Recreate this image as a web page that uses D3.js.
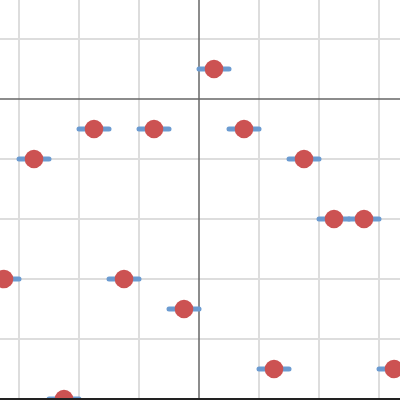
<!DOCTYPE html>
<html>
<head>
<meta charset="utf-8">
<script src="https://cdn.jsdelivr.net/npm/d3@7"></script>
<style>
  body { margin: 0; background: #fff; }
  svg { display: block; }
</style>
</head>
<body>
<div id="chart"></div>
<script>
// point values
var xs = [0.25, -1.75, -0.75, 0.75, -2.75, 1.75, 2.25, 2.75, -3.25, -1.25, -0.25, 1.25, 3.25, -2.25];
var ys = [0.5, -0.5, -0.5, -0.5, -1, -1, -2, -2, -3, -3, -3.5, -4.5, -4.5, -5];
var xerr = [0.25, 0.25, 0.25, 0.25, 0.25, 0.25, 0.25, 0.25, 0.25, 0.25, 0.25, 0.25, 0.25, 0.25];

// grid positions
var xTicks = [-3, -2, -1, 1, 2, 3];
var yTicks = [1, -1, -2, -3, -4];

var width = 400, height = 400;

var svg = d3.select("#chart")
  .append("svg")
    .attr("width", width)
    .attr("height", height);

var x = d3.scaleLinear().domain([-4, 4]).range([199 - 240, 199 + 240]);
var y = d3.scaleLinear().domain([-5, 1]).range([399, 39]);

var data = [];
for (var i = 0; i < xs.length; i++) {
  data.push({x: xs[i], y: ys[i], e: xerr[i]});
}

// grid
svg.selectAll(".vgrid")
  .data(xTicks)
  .enter().append("line")
    .attr("x1", function(d) { return x(d); })
    .attr("x2", function(d) { return x(d); })
    .attr("y1", 0).attr("y2", height)
    .attr("stroke", "#dddddd")
    .attr("stroke-width", 2);

svg.selectAll(".hgrid")
  .data(yTicks)
  .enter().append("line")
    .attr("y1", function(d) { return y(d); })
    .attr("y2", function(d) { return y(d); })
    .attr("x1", 0).attr("x2", width)
    .attr("stroke", "#dddddd")
    .attr("stroke-width", 2);

// zero axes
svg.append("line")
  .attr("x1", x(0)).attr("x2", x(0))
  .attr("y1", 0).attr("y2", height)
  .attr("stroke", "#666666")
  .attr("stroke-width", 1.5);

svg.append("line")
  .attr("y1", y(0)).attr("y2", y(0))
  .attr("x1", 0).attr("x2", width)
  .attr("stroke", "#666666")
  .attr("stroke-width", 1.5);

// error bars
svg.selectAll(".err")
  .data(data)
  .enter().append("line")
    .attr("x1", function(d) { return x(d.x - d.e); })
    .attr("x2", function(d) { return x(d.x + d.e); })
    .attr("y1", function(d) { return y(d.y); })
    .attr("y2", function(d) { return y(d.y); })
    .attr("stroke", "#6b9bd1")
    .attr("stroke-width", 5)
    .attr("stroke-linecap", "round");

// points
svg.selectAll(".pt")
  .data(data)
  .enter().append("circle")
    .attr("cx", function(d) { return x(d.x); })
    .attr("cy", function(d) { return y(d.y); })
    .attr("r", 9.3)
    .attr("fill", "#cc5252");

// bottom edge
svg.append("line")
  .attr("x1", 0).attr("x2", width)
  .attr("y1", y(-5)).attr("y2", y(-5))
  .attr("stroke", "#222222")
  .attr("stroke-width", 2);
</script>
</body>
</html>
